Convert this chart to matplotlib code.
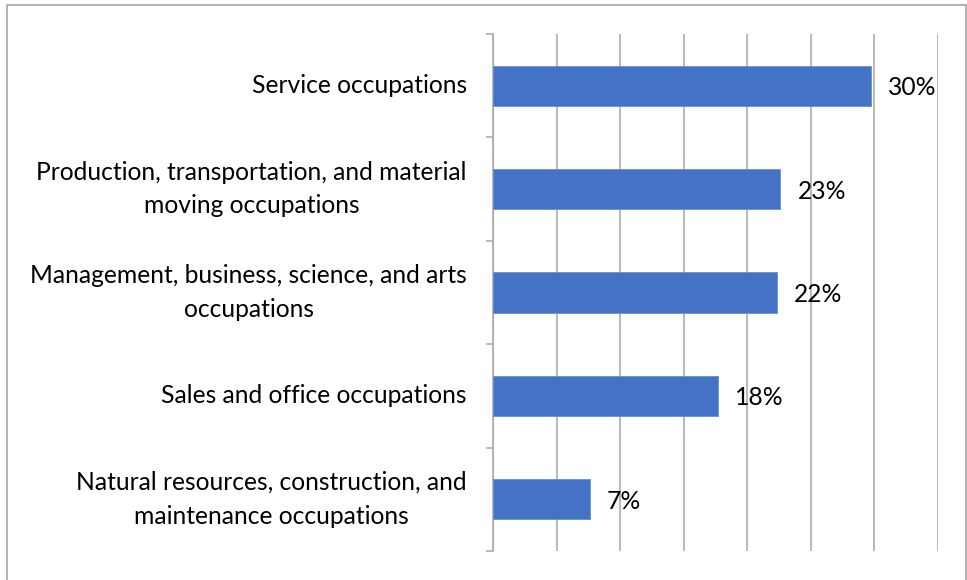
import matplotlib
matplotlib.use("Agg")
import matplotlib.pyplot as plt
from matplotlib.patches import Rectangle
import numpy as np

plt.rcParams['font.family'] = ['Lato', 'DejaVu Sans']

categories = [
    "Service occupations",
    "Production, transportation, and material\nmoving occupations",
    "Management, business, science, and arts\noccupations",
    "Sales and office occupations",
    "Natural resources, construction, and\nmaintenance occupations",
]
values = [29.7, 22.6, 22.3, 17.7, 7.6]
value_labels = ["30%", "23%", "22%", "18%", "7%"]

W, H, DPI = 967, 580, 100
fig = plt.figure(figsize=(W / DPI, H / DPI), dpi=DPI)
fig.patch.set_facecolor("white")

# outer chart border
fig.add_artist(Rectangle((7 / W, -0.05), (966 - 7) / W, 1.05 - 5 / H,
                         transform=fig.transFigure, fill=False,
                         edgecolor="#A6A6A6", linewidth=1.2))

left, right = 493.3 / W, 938 / W
top, bottom = 1 - 34 / H, 1 - 551 / H
ax = fig.add_axes([left, bottom, right - left, top - bottom])

n = len(categories)
y = np.arange(n)[::-1]  # first category at top
ax.barh(y, values, height=0.39, color="#4472C4", edgecolor="#6A8FD3", linewidth=0.6, zorder=3)

ax.set_xlim(0, 35)
ax.set_ylim(-0.5, n - 0.5)
ax.set_xticks(np.arange(0, 36, 5))
ax.xaxis.grid(True, color="#A6A6A6", linewidth=1.1, zorder=0)
ax.tick_params(axis="x", length=0, labelbottom=False)

FS = 17.7

# category boundary tick marks
ax.set_yticks(np.arange(-0.5, n, 1.0))
ax.set_yticklabels([])
ax.tick_params(axis="y", which="major", length=5, color="#A6A6A6", width=1.1, direction="out")
ax.set_yticks(y, minor=True)
ax.set_yticklabels(categories, minor=True, fontsize=FS, color="black", linespacing=1.55)
ax.tick_params(axis="y", which="minor", length=0, pad=19)
for lbl in ax.get_yticklabels(minor=True):
    lbl.set_multialignment("center")
    lbl.set_verticalalignment("center")

for s in ["top", "right", "bottom"]:
    ax.spines[s].set_visible(False)
ax.spines["left"].set_color("#A6A6A6")
ax.spines["left"].set_linewidth(1.1)

for yi, v, t in zip(y, values, value_labels):
    ax.annotate(t, xy=(v, yi), xytext=(12.2, -1.5), textcoords="offset points",
                ha="left", va="center", fontsize=FS, color="black", zorder=4)

fig.savefig("out.png", dpi=DPI)
